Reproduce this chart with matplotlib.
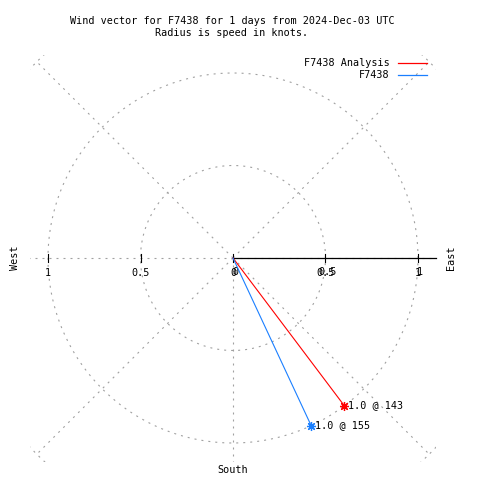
import numpy as np
import matplotlib
matplotlib.use('Agg')
import matplotlib.pyplot as plt
from matplotlib.lines import Line2D

plt.rcParams['font.family'] = ['DejaVu Sans Mono']

# wind vectors (speed in knots, direction in degrees from north)
names = ['F7438 Analysis', 'F7438']
speeds = [1.0, 1.0]
directions = [143, 155]
colors = ['#ff0000', '#1a7fff']

grid_radii = [0.5, 1.0, 1.5]
grid_angles = [0, 45, 90, 135, 180, 225, 270, 315]
tick_vals = [-1, -0.5, 0, 0.5, 1]
tick_labels = ['1', '0.5', '0', '0.5', '1']
lim = 1.1
fs = 7.3

fig = plt.figure(figsize=(4.8, 4.8), dpi=100)
ax = fig.add_axes([29.5 / 480, 18.5 / 480, 407 / 480, 407 / 480])
ax.set_xlim(-lim, lim)
ax.set_ylim(-lim, lim)
ax.set_aspect('equal')
ax.axis('off')

grid_kw = dict(color='#a0a0a0', lw=0.8, ls=(0, (1.8, 4.5)), zorder=1)

# polar grid circles
t = np.linspace(0, 2 * np.pi, 400)
for r in grid_radii:
    ax.plot(r * np.cos(t), r * np.sin(t), **grid_kw)

# radial grid lines
rmax = max(grid_radii)
for a in grid_angles:
    if a == 90:
        continue  # east side drawn as solid axis
    th = np.radians(a)
    ax.plot([0, rmax * np.cos(th)], [0, rmax * np.sin(th)], **grid_kw)

# solid polar axis towards east
ax.plot([0, lim], [0, 0], color='black', lw=0.9, zorder=2, clip_on=False)

# tick marks and labels on the horizontal axis
for v, lab in zip(tick_vals, tick_labels):
    ax.plot([v, v], [-0.022, 0.022], color='black', lw=0.8, zorder=2)
    ax.text(v, -0.08, lab, ha='center', va='center', fontsize=fs, zorder=3)
    if v >= 0:
        ax.text(v + 0.011, -0.075, lab, ha='center', va='center', fontsize=fs, zorder=3)

# wind vectors
for name, spd, d, c in zip(names, speeds, directions, colors):
    th = np.radians(d)
    x = spd * np.sin(th)
    y = spd * np.cos(th)
    ax.plot([0, x], [0, y], color=c, lw=0.8, zorder=4)
    ax.plot([x], [y], marker=(8, 2, 0), ms=6.5, mec=c, mew=0.9, color=c, zorder=5)
    ax.text(x + 0.02, y + 0.005, f'{spd:.1f} @ {d}', ha='left', va='center',
            fontsize=fs, zorder=6)

# compass labels
fig.text(15 / 480, 1 - 258 / 480, 'West', rotation=90, ha='center', va='center', fontsize=fs)
fig.text(451 / 480, 1 - 258 / 480, 'East', rotation=90, ha='center', va='center', fontsize=fs)
fig.text(233 / 480, 1 - 470 / 480, 'South', ha='center', va='center', fontsize=fs)

# title
fig.text(232 / 480, 1 - 21 / 480, 'Wind vector for F7438 for 1 days from 2024-Dec-03 UTC',
         ha='center', va='center', fontsize=fs)
fig.text(232 / 480, 1 - 33 / 480, 'Radius is speed in knots.',
         ha='center', va='center', fontsize=fs)

# legend: text then line sample
for i, (name, c) in enumerate(zip(names, colors)):
    yy = 1 - (63 + 12 * i) / 480
    fig.text(390 / 480, yy, name, ha='right', va='center', fontsize=fs)
    fig.add_artist(Line2D([398 / 480, 427 / 480], [yy, yy], color=c, lw=0.9))

fig.savefig('out.png', dpi=100)
